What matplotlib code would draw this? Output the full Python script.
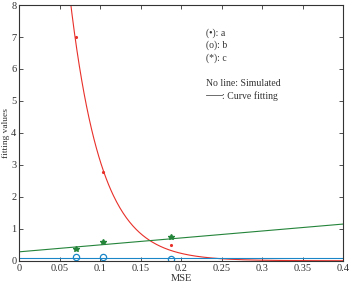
import numpy as np
import matplotlib
matplotlib.use('Agg')
from matplotlib import pyplot as plt

plt.rcParams['font.family'] = ['Liberation Serif', 'DejaVu Serif']

# simulated points
mse = [0.07, 0.104, 0.188]
sim_a = [7.0, 2.77, 0.48]     # red dots
sim_b = [0.12, 0.12, 0.05]    # blue circles
sim_c = [0.37, 0.60, 0.75]    # green stars

# curve fitting parameters
fit_a_amp, fit_a_rate = [42.0, 26.0]   # y = amp * exp(-rate * x)
fit_b_level = [0.10]                   # flat line
fit_c_coef = [2.17, 0.28]              # y = slope * x + intercept

xticks = [0, 0.05, 0.1, 0.15, 0.2, 0.25, 0.3, 0.35, 0.4]
yticks = [0, 1, 2, 3, 4, 5, 6, 7, 8]

red = '#e8302a'
blue = '#1a86c8'
green = '#24843a'

fig = plt.figure(figsize=(3.5, 2.81), dpi=100)
ax = fig.add_axes([0.055, 0.072, 0.925, 0.91])

xx = np.linspace(0, 0.4, 400)
ax.plot(xx, fit_a_amp * np.exp(-fit_a_rate * xx), color=red, lw=0.8)
ax.plot(xx, np.full_like(xx, fit_b_level[0]), color=blue, lw=0.8)
ax.plot(xx, np.polyval(fit_c_coef, xx), color=green, lw=0.8)

ax.plot(mse, sim_a, '.', color=red, ms=2.5)
ax.plot(mse, sim_b, 'o', color=blue, ms=4.5, mfc='none', mew=0.9)
ax.plot(mse, sim_c, '*', color=green, ms=3.8)

ax.set_xlim(0, 0.4)
ax.set_ylim(0, 8)
ax.set_xticks(xticks)
ax.set_xticklabels(['0', '0.05', '0.1', '0.15', '0.2', '0.25', '0.3', '0.35', '0.4'])
ax.set_yticks(yticks)
ax.tick_params(direction='in', top=True, right=True, length=3, width=0.6,
               labelsize=7.5, pad=2, colors='#333333')
for s in ax.spines.values():
    s.set_linewidth(0.8)
    s.set_color('#333333')

ax.set_xlabel('MSE', fontsize=7.5, labelpad=1, color='#333333')
ax.set_ylabel('fitting values', fontsize=6.8, color='#333333')
ax.yaxis.set_label_coords(-0.028, 0.5)

txt = ['(\u2022): a', '(o): b', '(*): c', '', 'No line: Simulated']
for i, t in enumerate(txt):
    ax.text(0.578, 0.891 - i * 0.0495, t, transform=ax.transAxes,
            fontsize=7, color='#333333', va='center')
y_fit = 0.891 - 5 * 0.0495
ax.plot([0.578, 0.627], [y_fit + 0.004, y_fit + 0.004], transform=ax.transAxes,
        color='#555555', lw=0.6)
ax.text(0.627, y_fit, ': Curve fitting', transform=ax.transAxes,
        fontsize=7, color='#333333', va='center')

fig.savefig('out.png', dpi=100)
